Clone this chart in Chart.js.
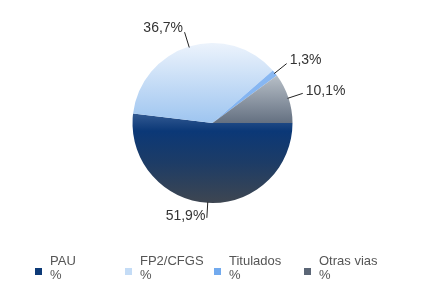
<!DOCTYPE html>
<html>
<head>
<meta charset="utf-8">
<script src="https://cdn.jsdelivr.net/npm/chart.js@4/dist/chart.umd.min.js"></script>
<style>
  body { margin: 0; background: #fff; }
  #wrap { position: relative; width: 425px; height: 306px; }
  #legend { position: absolute; left: 0; top: 254px; width: 425px; font: 13px "Liberation Sans", Arial, sans-serif; color: #555; }
  .item { position: absolute; top: 0; line-height: 14px; }
  .box { position: absolute; left: 0; top: 14px; width: 7px; height: 7px; }
  .txt { position: absolute; left: 15px; top: 0; white-space: nowrap; }
</style>
</head>
<body>
<div id="wrap">
  <canvas id="pieChart" width="425" height="306"></canvas>
  <div id="legend"></div>
</div>
<script>
//  ========================================= acceso por vía

const categories = ['PAU', 'FP2/CFGS', 'Titulados', 'Otras vias'];
const percents = [51.9, 36.7, 1.3, 10.1];
const valueLabels = ['51,9%', '36,7%', '1,3%', '10,1%'];

// gradient stops per slice (fraction of chart height, colour)
const sliceStops = [
  [[0.44, '#335a92'], [0.55, '#0b3877'], [0.75, '#1d3c66'], [1, '#3e4651']],
  [[0, '#ecf3fc'], [0.5, '#9ec5f0']],
  [[0, '#8fbcf3'], [1, '#6ea6ee']],
  [[0.2, '#b8c0c8'], [0.5, '#647081']]
];
const legendColors = ['#0d3a77', '#c4dcf6', '#72aaee', '#5b6676'];
const legendX = [35, 125, 214, 304];

function fillFor(ctx) {
  const chart = ctx.chart;
  const area = chart.chartArea;
  const stops = sliceStops[ctx.dataIndex];
  if (!area) return stops[0][1];
  const g = chart.ctx.createLinearGradient(0, area.top, 0, area.bottom);
  stops.forEach(s => g.addColorStop(s[0], s[1]));
  return g;
}

const leaderLabels = {
  id: 'leaderLabels',
  afterDatasetsDraw(chart) {
    const c = chart.ctx;
    const arcs = chart.getDatasetMeta(0).data;
    c.save();
    c.strokeStyle = '#222';
    c.lineWidth = 1;
    c.fillStyle = '#333';
    c.font = '14px "Liberation Sans", Arial, sans-serif';
    c.textBaseline = 'middle';
    arcs.forEach((arc, i) => {
      const mid = (arc.startAngle + arc.endAngle) / 2;
      const r = arc.outerRadius;
      const s = Math.sin(mid);
      const x1 = arc.x + Math.cos(mid) * (r - 1);
      const y1 = arc.y + s * (r - 1);
      const x2 = arc.x + Math.cos(mid) * (r + 15);
      const y2 = arc.y + s * (r + 15);
      c.beginPath();
      c.moveTo(x1, y1);
      c.lineTo(x2, y2);
      c.stroke();
      const right = Math.cos(mid) >= 0;
      c.textAlign = right ? 'left' : 'right';
      const dy = -2 + 2 * Math.min(0, s) + 0.5 * Math.max(0, s);
      c.fillText(valueLabels[i], x2 + (right ? 3 : -1.5), y2 + dy);
    });
    c.restore();
  }
};

const ctp = document.getElementById('pieChart').getContext('2d');
const pieChart = new Chart(ctp, {
  type: 'pie',
  data: {
    labels: categories,
    datasets: [{
      data: percents,
      backgroundColor: fillFor,
      borderWidth: 0
    }]
  },
  options: {
    responsive: false,
    animation: false,
    rotation: 90,
    layout: { padding: { top: 43, bottom: 103, left: 0, right: 0 } },
    plugins: {
      legend: { display: false },
      tooltip: { enabled: false }
    }
  },
  plugins: [leaderLabels]
});

const legend = document.getElementById('legend');
categories.forEach((name, i) => {
  const item = document.createElement('div');
  item.className = 'item';
  item.style.left = legendX[i] + 'px';
  item.innerHTML = '<span class="box" style="background:' + legendColors[i] + '"></span>' +
    '<span class="txt">' + name + '<br>%</span>';
  legend.appendChild(item);
});
</script>
</body>
</html>
